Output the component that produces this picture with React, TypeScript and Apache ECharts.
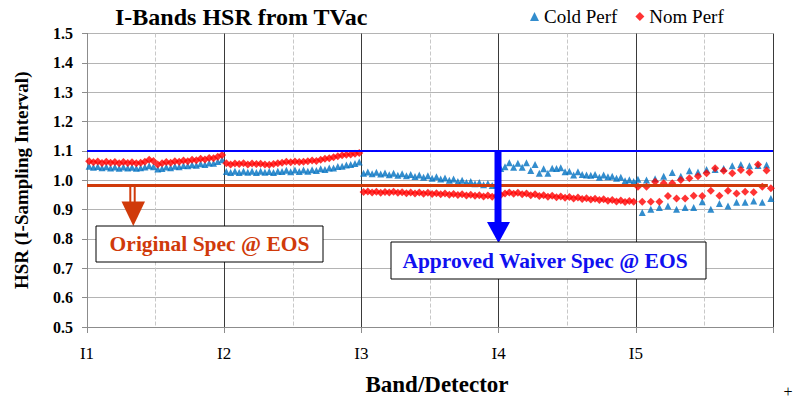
import React, { useEffect, useRef } from "react";
import * as echarts from "echarts";

const BANDS = ["I1", "I2", "I3", "I4", "I5"];
const DETECTORS = 32;

// Cold Perf (blue triangles), 32 detectors per band
const COLD_I1 = [1.048, 1.044, 1.047, 1.043, 1.046, 1.042, 1.045, 1.041, 1.045, 1.042, 1.044, 1.041, 1.043, 1.045, 1.049, 1.046, 1.038, 1.040, 1.045, 1.043, 1.048, 1.046, 1.050, 1.049, 1.053, 1.051, 1.056, 1.054, 1.059, 1.058, 1.064, 1.070];
const COLD_I2 = [1.030, 1.026, 1.031, 1.026, 1.031, 1.027, 1.031, 1.026, 1.031, 1.027, 1.030, 1.026, 1.031, 1.030, 1.034, 1.029, 1.035, 1.030, 1.035, 1.031, 1.036, 1.033, 1.039, 1.037, 1.042, 1.042, 1.047, 1.048, 1.052, 1.054, 1.057, 1.062];
const COLD_I3 = [1.024, 1.028, 1.022, 1.027, 1.021, 1.025, 1.019, 1.024, 1.017, 1.022, 1.015, 1.020, 1.013, 1.018, 1.010, 1.015, 1.007, 1.012, 1.004, 1.008, 1.000, 1.004, 0.996, 1.000, 0.992, 0.996, 0.988, 0.992, 0.985, 0.989, 0.982, 0.985];
const COLD_I4 = [1.040, 1.046, 1.060, 1.044, 1.058, 1.044, 1.060, 1.033, 1.054, 1.024, 1.039, 1.024, 1.041, 1.040, 1.043, 1.029, 1.031, 1.018, 1.029, 1.020, 1.018, 1.017, 1.020, 1.010, 1.018, 1.012, 1.014, 1.007, 1.010, 0.998, 1.002, 0.996];
const COLD_I5 = [1.003, 0.890, 1.001, 0.901, 1.005, 0.907, 1.014, 0.912, 1.026, 0.901, 1.014, 0.907, 1.032, 0.907, 1.028, 0.927, 1.037, 0.901, 1.037, 0.921, 1.040, 0.912, 1.049, 0.925, 1.054, 0.925, 1.049, 0.929, 1.050, 0.925, 1.052, 0.938];

// Nom Perf (red diamonds)
const NOM_I1 = [1.065, 1.061, 1.064, 1.059, 1.063, 1.060, 1.062, 1.058, 1.062, 1.059, 1.061, 1.058, 1.060, 1.063, 1.070, 1.066, 1.054, 1.058, 1.062, 1.060, 1.065, 1.063, 1.067, 1.065, 1.070, 1.068, 1.073, 1.071, 1.076, 1.075, 1.080, 1.086];
const NOM_I2 = [1.058, 1.054, 1.057, 1.055, 1.058, 1.054, 1.057, 1.055, 1.056, 1.054, 1.053, 1.055, 1.058, 1.060, 1.063, 1.061, 1.064, 1.062, 1.063, 1.065, 1.067, 1.066, 1.070, 1.073, 1.075, 1.078, 1.082, 1.085, 1.087, 1.088, 1.090, 1.093];
const NOM_I3 = [0.960, 0.962, 0.958, 0.961, 0.957, 0.960, 0.958, 0.961, 0.957, 0.959, 0.956, 0.958, 0.955, 0.958, 0.954, 0.957, 0.953, 0.956, 0.952, 0.955, 0.951, 0.953, 0.950, 0.952, 0.948, 0.951, 0.947, 0.949, 0.945, 0.948, 0.944, 0.946];
const NOM_I4 = [0.950, 0.955, 0.958, 0.954, 0.957, 0.952, 0.955, 0.949, 0.952, 0.946, 0.949, 0.944, 0.947, 0.942, 0.945, 0.940, 0.943, 0.938, 0.941, 0.936, 0.939, 0.934, 0.937, 0.933, 0.935, 0.930, 0.933, 0.928, 0.931, 0.926, 0.929, 0.927];
const NOM_I5 = [0.978, 0.927, 0.978, 0.927, 0.995, 0.927, 0.990, 0.946, 0.990, 0.938, 1.001, 0.938, 1.007, 0.947, 1.014, 0.946, 1.024, 0.964, 1.041, 0.947, 1.032, 0.964, 1.024, 0.955, 1.035, 0.961, 1.027, 0.959, 1.054, 0.978, 1.033, 0.973];

const COLD = [COLD_I1, COLD_I2, COLD_I3, COLD_I4, COLD_I5];
const NOM = [NOM_I1, NOM_I2, NOM_I3, NOM_I4, NOM_I5];

const WAIVER_SPEC = 1.1;
const ORIGINAL_SPEC = 0.984;

const Y_MIN = 0.5;
const Y_MAX = 1.5;
const Y_STEP = 0.1;

const FONT = '"Liberation Serif", "Times New Roman", serif';
const ORANGE = "#D03A0A";
const BLUE_TXT = "#1010F0";

function toPoints(bands: number[][]) {
  return bands.flatMap((vals, b) => vals.map((v, i) => [b * DETECTORS + i + 0.5, v]));
}

export default function App() {
  const ref = useRef<HTMLDivElement>(null);

  useEffect(() => {
    if (!ref.current) return;
    const chart = echarts.init(ref.current, null, { renderer: "svg" });
    const xMax = BANDS.length * DETECTORS;

    chart.setOption({
      animation: false,
      backgroundColor: "#ffffff",
      title: {
        text: "I-Bands HSR from TVac",
        left: 110,
        top: 0,
        textStyle: { fontFamily: FONT, fontSize: 24, fontWeight: "bold", color: "#000" },
      },
      legend: {
        left: 525,
        top: 2,
        itemWidth: 9,
        itemHeight: 9,
        itemGap: 18,
        textStyle: { fontFamily: FONT, fontSize: 19, color: "#000" },
        data: ["Cold Perf", "Nom Perf"],
      },
      grid: { left: 87, right: 22, top: 33.5, bottom: 75, containLabel: false },
      xAxis: {
        type: "value",
        min: 0,
        max: xMax,
        interval: DETECTORS,
        name: "Band/Detector",
        nameLocation: "middle",
        nameGap: 46,
        nameTextStyle: { fontFamily: FONT, fontSize: 23, fontWeight: "bold", color: "#000", padding: [0, 0, 0, 14] },
        axisLine: { show: true, lineStyle: { color: "#8c8c8c", width: 1 } },
        axisTick: { show: true, inside: false, length: 6, lineStyle: { color: "#8c8c8c" } },
        axisLabel: {
          margin: 18,
          fontFamily: FONT,
          fontSize: 17,
          color: "#000",
          formatter: (v: number) => {
            const idx = Math.round(v / DETECTORS);
            return idx < BANDS.length ? BANDS[idx] : "";
          },
        },
        splitLine: { show: true, lineStyle: { color: "#3a3a3a", width: 1 } },
        minorTick: { show: false, splitNumber: 2 },
        minorSplitLine: { show: true, lineStyle: { color: "#c8c8c8", type: "dashed", width: 1 } },
      },
      yAxis: {
        type: "value",
        min: Y_MIN,
        max: Y_MAX,
        interval: Y_STEP,
        name: "HSR (I-Sampling Interval)",
        nameLocation: "middle",
        nameGap: 56,
        nameTextStyle: { fontFamily: FONT, fontSize: 19, fontWeight: "bold", color: "#000" },
        axisLine: { show: true, lineStyle: { color: "#8c8c8c", width: 1 } },
        axisTick: { show: true, inside: false, length: 5, lineStyle: { color: "#8c8c8c" } },
        axisLabel: {
          margin: 14,
          fontFamily: FONT,
          fontSize: 16,
          fontWeight: "bold",
          color: "#000",
          formatter: (v: number) => v.toFixed(1),
        },
        splitLine: { show: true, lineStyle: { color: "#b4b4b4", width: 1 } },
      },
      series: [
        {
          name: "Cold Perf",
          type: "scatter",
          symbol: "triangle",
          symbolSize: 7,
          itemStyle: { color: "#0070C0" },
          data: toPoints(COLD),
          markLine: {
            silent: true,
            symbol: "none",
            label: { show: false },
            data: [
              { yAxis: WAIVER_SPEC, lineStyle: { color: "#0000FF", width: 2, type: "solid" } },
              [
                { coord: [0, ORIGINAL_SPEC], lineStyle: { color: ORANGE, width: 3, type: "solid" } },
                { coord: [158.8, ORIGINAL_SPEC] },
              ],
            ],
          },
        },
        {
          name: "Nom Perf",
          type: "scatter",
          symbol: "diamond",
          symbolSize: 8,
          itemStyle: { color: "#FF0000" },
          data: toPoints(NOM),
        },
      ],
      graphic: [
        // original spec arrow (double shaft)
        { type: "rect", shape: { x: 129.3, y: 185, width: 2, height: 17 }, style: { fill: ORANGE }, z: 100 },
        { type: "rect", shape: { x: 133.7, y: 185, width: 2, height: 17 }, style: { fill: ORANGE }, z: 100 },
        {
          type: "polygon",
          shape: { points: [[121.5, 201.5], [145, 201.5], [133.3, 226]] },
          style: { fill: ORANGE },
          z: 100,
        },
        // original spec box
        {
          type: "rect",
          shape: { x: 96, y: 226, width: 227, height: 36 },
          style: { fill: "#ffffff", stroke: "#000", lineWidth: 1 },
          z: 100,
        },
        {
          type: "text",
          x: 209.5,
          y: 244,
          style: {
            text: "Original Spec @ EOS",
            fill: ORANGE,
            font: `bold 21.5px ${FONT}`,
            align: "center",
            verticalAlign: "middle",
          },
          z: 101,
        },
        // waiver arrow
        { type: "rect", shape: { x: 494.5, y: 150, width: 7, height: 73 }, style: { fill: "#0000FF" }, z: 100 },
        {
          type: "polygon",
          shape: { points: [[487, 222], [510, 222], [498.5, 243]] },
          style: { fill: "#0000FF" },
          z: 100,
        },
        // waiver box
        {
          type: "rect",
          shape: { x: 391, y: 242, width: 315, height: 37 },
          style: { fill: "#ffffff", stroke: "#000", lineWidth: 1 },
          z: 100,
        },
        {
          type: "text",
          x: 545,
          y: 261,
          style: {
            text: "Approved Waiver Spec @ EOS",
            fill: BLUE_TXT,
            font: `bold 21.5px ${FONT}`,
            align: "center",
            verticalAlign: "middle",
          },
          z: 101,
        },
        {
          type: "text",
          x: 788,
          y: 391,
          style: { text: "+", fill: "#000", font: `16px ${FONT}`, align: "center", verticalAlign: "middle" },
        },
      ],
    });

    return () => chart.dispose();
  }, []);

  return <div ref={ref} style={{ position: "fixed", left: 0, top: 0, width: 795, height: 402 }} />;
}
